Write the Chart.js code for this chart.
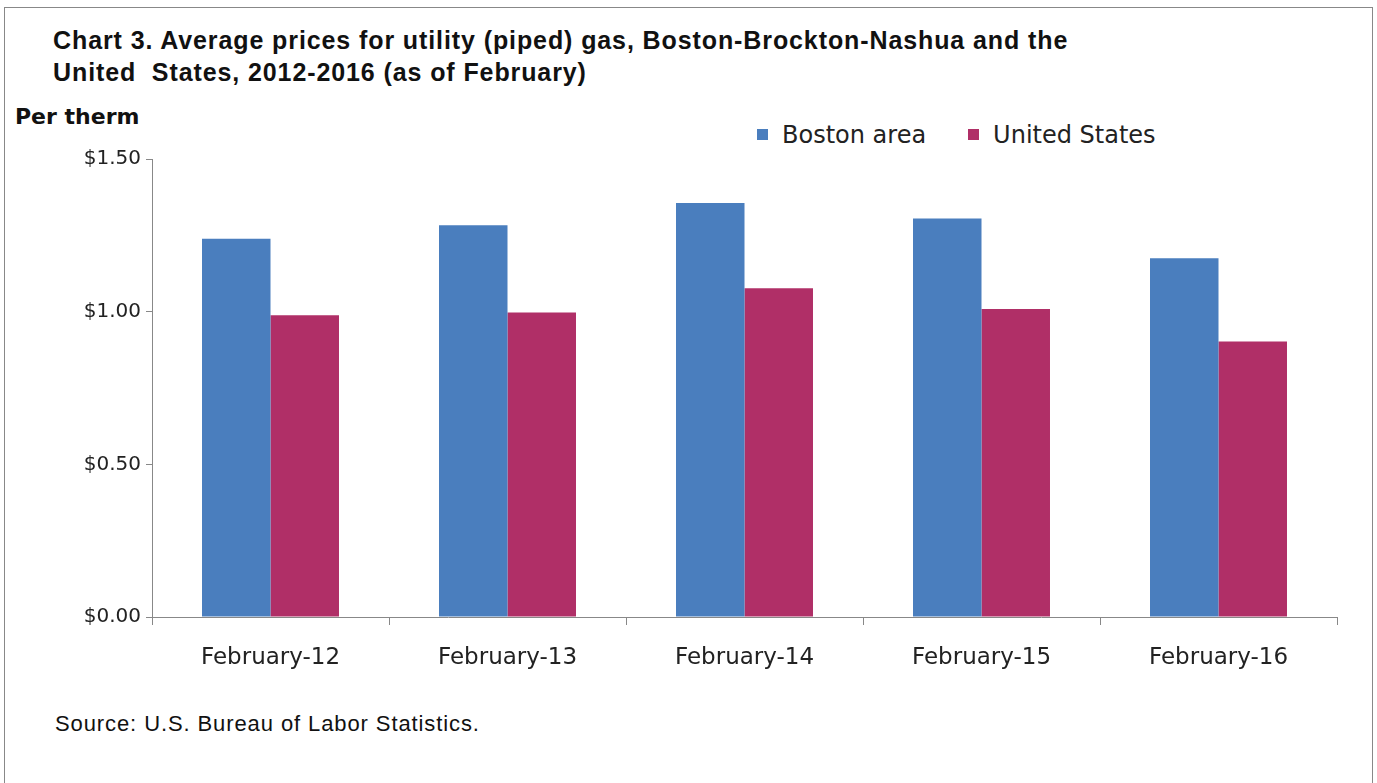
<!DOCTYPE html>
<html>
<head>
  <title>Utility gas prices</title>
  <script src="https://cdn.jsdelivr.net/npm/chart.js@4/dist/chart.umd.min.js"></script>
  <style>
    body { margin: 0; background: #fff; }
    #wrap { position: relative; width: 1377px; height: 783px; overflow: hidden; }
    #frame { position: absolute; left: 4px; top: 7px; width: 1369px; height: 790px; border: 1px solid #888; box-sizing: border-box; }
    #title { position: absolute; left: 53px; top: 24px; font: bold 25px "Liberation Sans", Arial, sans-serif; letter-spacing: 0.9px; line-height: 32px; color: #111; }
    #unit { position: absolute; left: 15px; top: 104px; font: bold 22px "DejaVu Sans", sans-serif; color: #111; }
    #source { position: absolute; left: 55px; top: 711px; font: 22px "Liberation Sans", Arial, sans-serif; letter-spacing: 0.9px; color: #111; }
    #legend { position: absolute; left: 757px; top: 121px; font: 24px "DejaVu Sans", sans-serif; color: #222; white-space: nowrap; }
    #legend span.box { display: inline-block; width: 11px; height: 11px; margin-right: 14px; vertical-align: 3px; }
    #legend span.item { margin-right: 42px; }
    canvas { position: absolute; left: 0; top: 0; }
  </style>
</head>
<body>
<div id="wrap">
  <div id="frame"></div>
  <div id="title">Chart 3. Average prices for utility (piped) gas, Boston-Brockton-Nashua and the<br>United&nbsp; States, 2012-2016 (as of February)</div>
  <div id="unit">Per therm</div>
  <div id="legend"></div>
  <div id="source">Source: U.S. Bureau of Labor Statistics.</div>
  <canvas id="chart" width="1377" height="783"></canvas>
</div>
<script>
  var categories = ['February-12', 'February-13', 'February-14', 'February-15', 'February-16'];
  var bostonArea = [1.239, 1.283, 1.356, 1.305, 1.175];
  var unitedStates = [0.988, 0.997, 1.077, 1.009, 0.902];
  var yTicks = [0, 0.5, 1.0, 1.5];

  var colors = ['#4A7EBE', '#B02F67'];
  var names = ['Boston area', 'United States'];

  // html legend
  var legend = document.getElementById('legend');
  names.forEach(function (n, i) {
    var s = document.createElement('span');
    s.className = 'item';
    s.innerHTML = '<span class="box" style="background:' + colors[i] + '"></span>' + n;
    legend.appendChild(s);
  });

  var ctx = document.getElementById('chart').getContext('2d');
  new Chart(ctx, {
    type: 'bar',
    data: {
      labels: categories,
      datasets: [
        { label: names[0], data: bostonArea, backgroundColor: colors[0] },
        { label: names[1], data: unitedStates, backgroundColor: colors[1] }
      ]
    },
    options: {
      responsive: false,
      animation: false,
      layout: { padding: { top: 159, right: 40, bottom: 66, left: 0 } },
      plugins: { legend: { display: false }, tooltip: { enabled: false } },
      datasets: { bar: { categoryPercentage: 0.578, barPercentage: 1.0 } },
      scales: {
        x: {
          grid: { display: true, drawOnChartArea: false, drawTicks: true, tickLength: 8, color: '#888' },
          border: { color: '#888' },
          ticks: { color: '#222', font: { family: 'DejaVu Sans', size: 23 }, padding: 19 },
          afterFit: function (s) { s.height = 100; }
        },
        y: {
          min: 0,
          max: 1.5,
          afterBuildTicks: function (s) { s.ticks = yTicks.map(function (v) { return { value: v }; }); },
          grid: { display: true, drawOnChartArea: false, drawTicks: true, tickLength: 6, color: '#888' },
          border: { color: '#888' },
          ticks: {
            color: '#222',
            font: { family: 'DejaVu Sans', size: 20 },
            padding: 5,
            callback: function (v) { return '$' + v.toFixed(2); }
          },
          afterFit: function (s) { s.width = 152; }
        }
      }
    }
  });
</script>
</body>
</html>
